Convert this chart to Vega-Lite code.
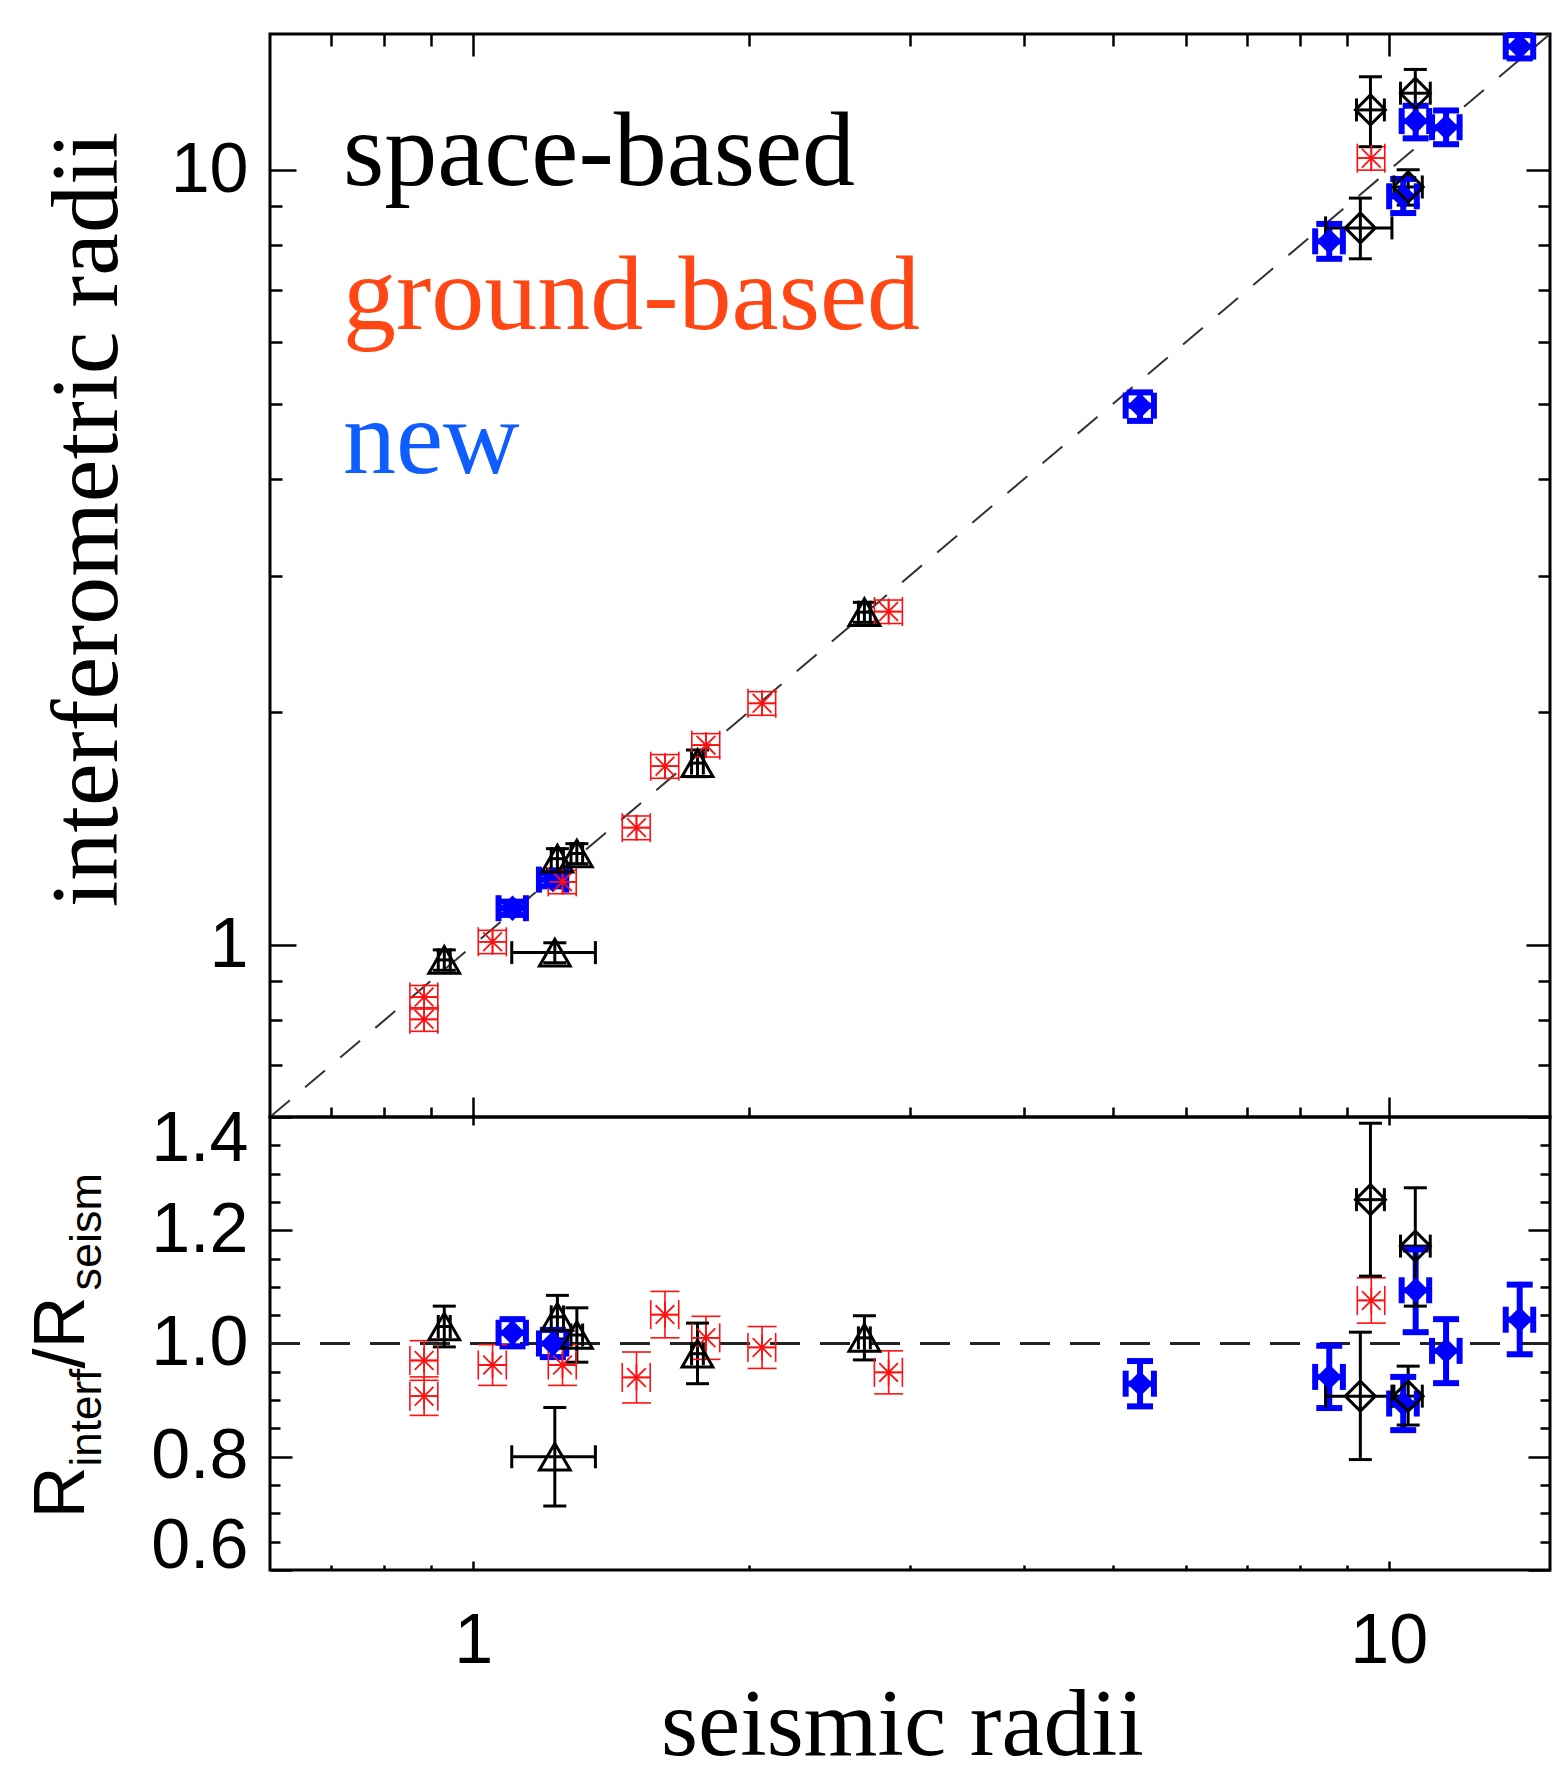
{
  "$schema": "https://vega.github.io/schema/vega-lite/v6.json",
  "background": "white",
  "padding": {"left": 23, "top": 20, "right": 10, "bottom": 0},
  "bounds": "flush",
  "spacing": 0,
  "config": {
    "view": {"stroke": "#000000", "strokeWidth": 3},
    "axis": {"domain": false, "grid": false, "labelFont": "Liberation Sans", "labelFontSize": 70, "labelColor": "#000000", "tickColor": "#000000", "tickWidth": 2.5, "labelOverlap": false, "titleColor": "#000000", "titleFontWeight": "normal"}
  },
  "datasets": {
    "diag": [{"v": 0.6}, {"v": 15}],
    "one": [{"r": 1}],
    "pts": [
      {"g":"new","sym":"diamond","x":1.104,"xlo":1.066,"xhi":1.142,"y":1.116,"ylo":1.094,"yhi":1.138,"r":1.019,"rlo":0.995,"rhi":1.043},
      {"g":"new","sym":"diamond","x":1.222,"xlo":1.180,"xhi":1.264,"y":1.215,"ylo":1.191,"yhi":1.239,"r":1.000,"rlo":0.976,"rhi":1.024},
      {"g":"new","sym":"diamond","x":5.35,"xlo":5.16,"xhi":5.54,"y":4.97,"ylo":4.75,"yhi":5.17,"r":0.929,"rlo":0.889,"rhi":0.969},
      {"g":"new","sym":"diamond","x":8.61,"xlo":8.31,"xhi":8.91,"y":8.10,"ylo":7.69,"yhi":8.53,"r":0.941,"rlo":0.886,"rhi":0.996},
      {"g":"new","sym":"diamond","x":10.37,"xlo":10.01,"xhi":10.73,"y":9.26,"ylo":8.81,"yhi":9.75,"r":0.894,"rlo":0.847,"rhi":0.941},
      {"g":"new","sym":"diamond","x":10.70,"xlo":10.33,"xhi":11.07,"y":11.58,"ylo":11.00,"yhi":12.12,"r":1.094,"rlo":1.020,"rhi":1.166},
      {"g":"new","sym":"diamond","x":11.55,"xlo":11.15,"xhi":11.95,"y":11.37,"ylo":10.81,"yhi":11.95,"r":0.987,"rlo":0.930,"rhi":1.043},
      {"g":"new","sym":"diamond","x":13.90,"xlo":13.42,"xhi":14.38,"y":14.45,"ylo":13.95,"yhi":14.95,"r":1.042,"rlo":0.981,"rhi":1.104},
      {"g":"ground-based","sym":"star","x":0.884,"xlo":0.853,"xhi":0.915,"y":0.857,"ylo":0.827,"yhi":0.887,"r":0.970,"rlo":0.935,"rhi":1.005},
      {"g":"ground-based","sym":"star","x":0.884,"xlo":0.853,"xhi":0.915,"y":0.802,"ylo":0.774,"yhi":0.830,"r":0.907,"rlo":0.873,"rhi":0.941},
      {"g":"ground-based","sym":"star","x":1.050,"xlo":1.013,"xhi":1.087,"y":1.010,"ylo":0.975,"yhi":1.045,"r":0.962,"rlo":0.926,"rhi":0.998},
      {"g":"ground-based","sym":"star","x":1.252,"xlo":1.208,"xhi":1.296,"y":1.207,"ylo":1.165,"yhi":1.249,"r":0.962,"rlo":0.926,"rhi":0.998},
      {"g":"ground-based","sym":"star","x":1.508,"xlo":1.455,"xhi":1.561,"y":1.418,"ylo":1.368,"yhi":1.468,"r":0.940,"rlo":0.895,"rhi":0.985},
      {"g":"ground-based","sym":"star","x":1.620,"xlo":1.563,"xhi":1.677,"y":1.702,"ylo":1.642,"yhi":1.762,"r":1.051,"rlo":1.010,"rhi":1.092},
      {"g":"ground-based","sym":"star","x":1.796,"xlo":1.733,"xhi":1.859,"y":1.812,"ylo":1.749,"yhi":1.875,"r":1.010,"rlo":0.972,"rhi":1.048},
      {"g":"ground-based","sym":"star","x":2.068,"xlo":1.996,"xhi":2.140,"y":2.052,"ylo":1.980,"yhi":2.124,"r":0.993,"rlo":0.956,"rhi":1.030},
      {"g":"ground-based","sym":"star","x":2.843,"xlo":2.743,"xhi":2.943,"y":2.695,"ylo":2.601,"yhi":2.789,"r":0.949,"rlo":0.911,"rhi":0.987},
      {"g":"ground-based","sym":"star","x":9.57,"xlo":9.24,"xhi":9.90,"y":10.37,"ylo":10.01,"yhi":10.73,"r":1.076,"rlo":1.036,"rhi":1.116},
      {"g":"space-based","sym":"triangle","x":0.930,"xlo":0.916,"xhi":0.944,"y":0.957,"ylo":0.928,"yhi":0.986,"r":1.030,"rlo":0.994,"rhi":1.066},
      {"g":"space-based","sym":"triangle","x":1.228,"xlo":1.102,"xhi":1.360,"y":0.978,"ylo":0.949,"yhi":1.007,"r":0.800,"rlo":0.713,"rhi":0.887},
      {"g":"space-based","sym":"triangle","x":1.236,"xlo":1.217,"xhi":1.255,"y":1.293,"ylo":1.254,"yhi":1.332,"r":1.047,"rlo":1.008,"rhi":1.085},
      {"g":"space-based","sym":"triangle","x":1.298,"xlo":1.279,"xhi":1.317,"y":1.313,"ylo":1.274,"yhi":1.352,"r":1.015,"rlo":0.967,"rhi":1.063},
      {"g":"space-based","sym":"triangle","x":1.758,"xlo":1.732,"xhi":1.784,"y":1.718,"ylo":1.650,"yhi":1.786,"r":0.982,"rlo":0.929,"rhi":1.036},
      {"g":"space-based","sym":"triangle","x":2.675,"xlo":2.635,"xhi":2.715,"y":2.690,"ylo":2.610,"yhi":2.770,"r":1.010,"rlo":0.971,"rhi":1.049},
      {"g":"space-based","sym":"diamond","x":9.55,"xlo":9.22,"xhi":9.89,"y":11.97,"ylo":10.73,"yhi":13.21,"r":1.254,"rlo":1.119,"rhi":1.389},
      {"g":"space-based","sym":"diamond","x":10.69,"xlo":10.30,"xhi":11.10,"y":12.58,"ylo":11.60,"yhi":13.50,"r":1.172,"rlo":1.066,"rhi":1.275},
      {"g":"space-based","sym":"diamond","x":9.31,"xlo":8.53,"xhi":10.08,"y":8.43,"ylo":7.69,"yhi":9.21,"r":0.907,"rlo":0.795,"rhi":1.020},
      {"g":"space-based","sym":"diamond","x":10.50,"xlo":10.13,"xhi":10.88,"y":9.52,"ylo":9.02,"yhi":10.02,"r":0.907,"rlo":0.856,"rhi":0.960}
    ]
  },
  "vconcat": [
    {
      "width": 1280,
      "height": 1083,
      "data": {"name": "pts"},
      "resolve": {"axis": {"x": "independent", "y": "independent"}},
      "layer": [
        {
          "data": {"name": "diag"},
          "mark": {"type": "line", "strokeDash": [26, 20], "strokeWidth": 2, "color": "#333333", "clip": true},
          "encoding": {
            "x": {"field": "v", "type": "quantitative", "scale": {"type": "log", "domain": [0.6, 15], "nice": false},
                  "axis": {"orient": "bottom", "values": [0.7,0.8,0.9,1,2,3,4,5,6,7,8,9,10], "labels": false, "title": null,
                           "tickSize": {"condition": {"test": "datum.value == 1 || datum.value == 10", "value": -20}, "value": -10}}},
            "y": {"field": "v", "type": "quantitative", "scale": {"type": "log", "domain": [0.6, 15], "nice": false},
                  "axis": {"orient": "left", "values": [0.7,0.8,0.9,1,2,3,4,5,6,7,8,9,10], "format": "~g",
                           "labelExpr": "datum.value == 1 || datum.value == 10 ? datum.label : ''",
                           "tickSize": {"condition": {"test": "datum.value == 1 || datum.value == 10", "value": -26}, "value": -12},
                           "labelPadding": 48,
                           "title": "interferometric radii", "titleFont": "Liberation Serif", "titleFontSize": 96,
                           "titleAngle": 270, "titleAlign": "center", "titleBaseline": "alphabetic", "titleX": -154, "titleY": 485}}
          }
        },
        {
          "mark": {"type": "rule"},
          "encoding": {
            "x": {"field": "x", "type": "quantitative", "scale": {"type": "log", "domain": [0.6, 15], "nice": false},
                  "axis": {"orient": "top", "values": [0.7,0.8,0.9,1,2,3,4,5,6,7,8,9,10], "labels": false, "title": null,
                           "tickSize": {"condition": {"test": "datum.value == 1 || datum.value == 10", "value": -22}, "value": -12}}},
            "y": {"field": "ylo", "type": "quantitative", "scale": {"type": "log", "domain": [0.6, 15], "nice": false},
                  "axis": {"orient": "right", "values": [0.7,0.8,0.9,1,2,3,4,5,6,7,8,9,10], "labels": false, "title": null,
                           "tickSize": {"condition": {"test": "datum.value == 1 || datum.value == 10", "value": -24}, "value": -12}}},
            "y2": {"field": "yhi"},
            "color": {"field": "g", "type": "nominal", "scale": {"domain": ["space-based", "ground-based", "new"], "range": ["#000000", "#ff1010", "#0000ff"]},
                      "legend": {"title": null, "orient": "none", "legendX": -33, "legendY": 66, "padding": 0,
                                 "labelFont": "Liberation Serif", "labelFontSize": 106, "labelLimit": 0, "labelOffset": 0,
                                 "symbolSize": 0, "symbolStrokeWidth": 0, "symbolOpacity": 0, "rowPadding": 38,
                                 "encode": {"labels": {"update": {"fill": {"signal": "datum.label == 'space-based' ? '#000000' : datum.label == 'ground-based' ? '#ff4716' : '#0f5cff'"}}}}}},
            "strokeWidth": {"field": "g", "type": "ordinal", "scale": {"type": "ordinal", "domain": ["space-based", "ground-based", "new"], "range": [3, 1.6, 6]}, "legend": null}
          }
        },
        {
          "mark": {"type": "rule"},
          "encoding": {
            "x": {"field": "xlo", "type": "quantitative", "scale": {"type": "log", "domain": [0.6, 15], "nice": false}, "axis": null},
            "x2": {"field": "xhi"},
            "y": {"field": "y", "type": "quantitative", "scale": {"type": "log", "domain": [0.6, 15], "nice": false}, "axis": null},
            "color": {"field": "g", "type": "nominal", "scale": {"domain": ["space-based", "ground-based", "new"], "range": ["#000000", "#ff1010", "#0000ff"]}},
            "strokeWidth": {"field": "g", "type": "ordinal", "scale": {"type": "ordinal", "domain": ["space-based", "ground-based", "new"], "range": [3, 1.6, 6]}, "legend": null}
          }
        },
        {
          "transform": [{"fold": ["ylo", "yhi"], "as": ["k", "cv"]}],
          "mark": {"type": "point", "shape": "M-1,0L1,0", "filled": false, "opacity": 1},
          "encoding": {
            "x": {"field": "x", "type": "quantitative", "scale": {"type": "log", "domain": [0.6, 15], "nice": false}, "axis": null},
            "y": {"field": "cv", "type": "quantitative", "scale": {"type": "log", "domain": [0.6, 15], "nice": false}, "axis": null},
            "color": {"field": "g", "type": "nominal", "scale": {"domain": ["space-based", "ground-based", "new"], "range": ["#000000", "#ff1010", "#0000ff"]}},
            "strokeWidth": {"field": "g", "type": "ordinal", "scale": {"type": "ordinal", "domain": ["space-based", "ground-based", "new"], "range": [3, 1.6, 6]}, "legend": null},
            "size": {"field": "g", "type": "ordinal", "scale": {"type": "ordinal", "domain": ["space-based", "ground-based", "new"], "range": [529, 841, 676]}, "legend": null}
          }
        },
        {
          "transform": [{"fold": ["xlo", "xhi"], "as": ["k", "cv"]}],
          "mark": {"type": "point", "shape": "M0,-1L0,1", "filled": false, "opacity": 1},
          "encoding": {
            "x": {"field": "cv", "type": "quantitative", "scale": {"type": "log", "domain": [0.6, 15], "nice": false}, "axis": null},
            "y": {"field": "y", "type": "quantitative", "scale": {"type": "log", "domain": [0.6, 15], "nice": false}, "axis": null},
            "color": {"field": "g", "type": "nominal", "scale": {"domain": ["space-based", "ground-based", "new"], "range": ["#000000", "#ff1010", "#0000ff"]}},
            "strokeWidth": {"field": "g", "type": "ordinal", "scale": {"type": "ordinal", "domain": ["space-based", "ground-based", "new"], "range": [3, 1.6, 6]}, "legend": null},
            "size": {"field": "g", "type": "ordinal", "scale": {"type": "ordinal", "domain": ["space-based", "ground-based", "new"], "range": [529, 841, 676]}, "legend": null}
          }
        },
        {
          "transform": [{"filter": "datum.g == 'new'"}],
          "mark": {"type": "point", "shape": "diamond", "filled": true, "size": 650, "opacity": 1},
          "encoding": {
            "x": {"field": "x", "type": "quantitative", "scale": {"type": "log", "domain": [0.6, 15], "nice": false}, "axis": null},
            "y": {"field": "y", "type": "quantitative", "scale": {"type": "log", "domain": [0.6, 15], "nice": false}, "axis": null},
            "color": {"field": "g", "type": "nominal", "scale": {"domain": ["space-based", "ground-based", "new"], "range": ["#000000", "#ff1010", "#0000ff"]}}
          }
        },
        {
          "transform": [{"filter": "datum.g == 'ground-based'"}],
          "mark": {"type": "point", "shape": "M0,-1L0,1M-1,0L1,0M-0.72,-0.72L0.72,0.72M-0.72,0.72L0.72,-0.72", "filled": false, "size": 676, "strokeWidth": 1.8, "opacity": 1},
          "encoding": {
            "x": {"field": "x", "type": "quantitative", "scale": {"type": "log", "domain": [0.6, 15], "nice": false}, "axis": null},
            "y": {"field": "y", "type": "quantitative", "scale": {"type": "log", "domain": [0.6, 15], "nice": false}, "axis": null},
            "color": {"field": "g", "type": "nominal", "scale": {"domain": ["space-based", "ground-based", "new"], "range": ["#000000", "#ff1010", "#0000ff"]}}
          }
        },
        {
          "transform": [{"filter": "datum.sym == 'triangle'"}],
          "mark": {"type": "point", "shape": "triangle-up", "filled": false, "size": 950, "strokeWidth": 3, "opacity": 1},
          "encoding": {
            "x": {"field": "x", "type": "quantitative", "scale": {"type": "log", "domain": [0.6, 15], "nice": false}, "axis": null},
            "y": {"field": "y", "type": "quantitative", "scale": {"type": "log", "domain": [0.6, 15], "nice": false}, "axis": null},
            "color": {"field": "g", "type": "nominal", "scale": {"domain": ["space-based", "ground-based", "new"], "range": ["#000000", "#ff1010", "#0000ff"]}}
          }
        },
        {
          "transform": [{"filter": "datum.g == 'space-based' && datum.sym == 'diamond'"}],
          "mark": {"type": "point", "shape": "diamond", "filled": false, "size": 900, "strokeWidth": 3, "opacity": 1},
          "encoding": {
            "x": {"field": "x", "type": "quantitative", "scale": {"type": "log", "domain": [0.6, 15], "nice": false}, "axis": null},
            "y": {"field": "y", "type": "quantitative", "scale": {"type": "log", "domain": [0.6, 15], "nice": false}, "axis": null},
            "color": {"field": "g", "type": "nominal", "scale": {"domain": ["space-based", "ground-based", "new"], "range": ["#000000", "#ff1010", "#0000ff"]}}
          }
        }
      ]
    },
    {
      "width": 1280,
      "height": 453,
      "data": {"name": "pts"},
      "resolve": {"axis": {"x": "independent", "y": "independent"}},
      "layer": [
        {
          "data": {"name": "one"},
          "mark": {"type": "rule", "strokeDash": [30, 20], "strokeWidth": 3, "color": "#222222"},
          "encoding": {
            "y": {"field": "r", "type": "quantitative", "scale": {"domain": [0.6, 1.4], "nice": false, "zero": false},
                  "axis": {"orient": "left", "values": [0.6,0.65,0.7,0.75,0.8,0.85,0.9,0.95,1,1.05,1.1,1.15,1.2,1.25,1.3,1.35,1.4],
                           "labelExpr": "datum.value == 0.6 || datum.value == 0.8 || datum.value == 1 || datum.value == 1.2 || datum.value == 1.4 ? format(datum.value, '.1f') : ''",
                           "labelFlush": true, "labelFlushOffset": 12, "labelPadding": 44,
                           "tickSize": {"condition": {"test": "datum.value == 0.6 || datum.value == 0.8 || datum.value == 1 || datum.value == 1.2 || datum.value == 1.4", "value": -22}, "value": -10},
                           "title": "R", "titleFont": "Liberation Sans", "titleFontSize": 72, "titleAngle": 270, "titleAlign": "left", "titleBaseline": "alphabetic", "titleX": -187, "titleY": 401}}
          }
        },
        {
          "mark": {"type": "rule"},
          "encoding": {
            "x": {"field": "x", "type": "quantitative", "scale": {"type": "log", "domain": [0.6, 15], "nice": false},
                  "axis": {"orient": "bottom", "values": [0.7,0.8,0.9,1,2,3,4,5,6,7,8,9,10], "format": "~g",
                           "labelExpr": "datum.value == 1 || datum.value == 10 ? datum.label : ''",
                           "tickSize": {"condition": {"test": "datum.value == 1 || datum.value == 10", "value": -9}, "value": -5},
                           "labelPadding": 46,
                           "title": "seismic radii", "titleFont": "Liberation Serif", "titleFontSize": 95, "titleAngle": 0,
                           "titleAlign": "center", "titleBaseline": "alphabetic", "titleX": 632, "titleY": 184}},
            "y": {"field": "rlo", "type": "quantitative", "scale": {"domain": [0.6, 1.4], "nice": false, "zero": false},
                  "axis": {"orient": "right", "values": [0.6,0.65,0.7,0.75,0.8,0.85,0.9,0.95,1,1.05,1.1,1.15,1.2,1.25,1.3,1.35,1.4], "labels": false, "title": null,
                           "tickSize": {"condition": {"test": "datum.value == 0.6 || datum.value == 0.8 || datum.value == 1 || datum.value == 1.2 || datum.value == 1.4", "value": -22}, "value": -10}}},
            "y2": {"field": "rhi"},
            "color": {"field": "g", "type": "nominal", "scale": {"domain": ["space-based", "ground-based", "new"], "range": ["#000000", "#ff1010", "#0000ff"]}},
            "strokeWidth": {"field": "g", "type": "ordinal", "scale": {"type": "ordinal", "domain": ["space-based", "ground-based", "new"], "range": [3, 1.6, 6]}, "legend": null}
          }
        },
        {
          "mark": {"type": "rule"},
          "encoding": {
            "x": {"field": "xlo", "type": "quantitative", "scale": {"type": "log", "domain": [0.6, 15], "nice": false},
                  "axis": {"orient": "top", "values": [1, 10], "labels": false, "title": null, "tickSize": -8}},
            "x2": {"field": "xhi"},
            "y": {"field": "r", "type": "quantitative", "scale": {"domain": [0.6, 1.4], "nice": false, "zero": false},
                  "axis": {"orient": "left", "ticks": false, "labels": false, "title": "interf", "titleFont": "Liberation Sans", "titleFontSize": 44,
                           "titleAngle": 270, "titleAlign": "left", "titleBaseline": "alphabetic", "titleX": -170, "titleY": 349}},
            "color": {"field": "g", "type": "nominal", "scale": {"domain": ["space-based", "ground-based", "new"], "range": ["#000000", "#ff1010", "#0000ff"]}},
            "strokeWidth": {"field": "g", "type": "ordinal", "scale": {"type": "ordinal", "domain": ["space-based", "ground-based", "new"], "range": [3, 1.6, 6]}, "legend": null}
          }
        },
        {
          "transform": [{"fold": ["rlo", "rhi"], "as": ["k", "cv"]}],
          "mark": {"type": "point", "shape": "M-1,0L1,0", "filled": false, "opacity": 1},
          "encoding": {
            "x": {"field": "x", "type": "quantitative", "scale": {"type": "log", "domain": [0.6, 15], "nice": false}, "axis": null},
            "y": {"field": "cv", "type": "quantitative", "scale": {"domain": [0.6, 1.4], "nice": false, "zero": false},
                  "axis": {"orient": "left", "ticks": false, "labels": false, "title": "/R", "titleFont": "Liberation Sans", "titleFontSize": 72,
                           "titleAngle": 270, "titleAlign": "left", "titleBaseline": "alphabetic", "titleX": -187, "titleY": 251}},
            "color": {"field": "g", "type": "nominal", "scale": {"domain": ["space-based", "ground-based", "new"], "range": ["#000000", "#ff1010", "#0000ff"]}},
            "strokeWidth": {"field": "g", "type": "ordinal", "scale": {"type": "ordinal", "domain": ["space-based", "ground-based", "new"], "range": [3, 1.6, 6]}, "legend": null},
            "size": {"field": "g", "type": "ordinal", "scale": {"type": "ordinal", "domain": ["space-based", "ground-based", "new"], "range": [529, 841, 676]}, "legend": null}
          }
        },
        {
          "transform": [{"fold": ["xlo", "xhi"], "as": ["k", "cv"]}],
          "mark": {"type": "point", "shape": "M0,-1L0,1", "filled": false, "opacity": 1},
          "encoding": {
            "x": {"field": "cv", "type": "quantitative", "scale": {"type": "log", "domain": [0.6, 15], "nice": false}, "axis": null},
            "y": {"field": "r", "type": "quantitative", "scale": {"domain": [0.6, 1.4], "nice": false, "zero": false},
                  "axis": {"orient": "left", "ticks": false, "labels": false, "title": "seism", "titleFont": "Liberation Sans", "titleFontSize": 45,
                           "titleAngle": 270, "titleAlign": "left", "titleBaseline": "alphabetic", "titleX": -170, "titleY": 173}},
            "color": {"field": "g", "type": "nominal", "scale": {"domain": ["space-based", "ground-based", "new"], "range": ["#000000", "#ff1010", "#0000ff"]}},
            "strokeWidth": {"field": "g", "type": "ordinal", "scale": {"type": "ordinal", "domain": ["space-based", "ground-based", "new"], "range": [3, 1.6, 6]}, "legend": null},
            "size": {"field": "g", "type": "ordinal", "scale": {"type": "ordinal", "domain": ["space-based", "ground-based", "new"], "range": [529, 841, 676]}, "legend": null}
          }
        },
        {
          "transform": [{"filter": "datum.g == 'new'"}],
          "mark": {"type": "point", "shape": "diamond", "filled": true, "size": 650, "opacity": 1},
          "encoding": {
            "x": {"field": "x", "type": "quantitative", "scale": {"type": "log", "domain": [0.6, 15], "nice": false}, "axis": null},
            "y": {"field": "r", "type": "quantitative", "scale": {"domain": [0.6, 1.4], "nice": false, "zero": false}, "axis": null},
            "color": {"field": "g", "type": "nominal", "scale": {"domain": ["space-based", "ground-based", "new"], "range": ["#000000", "#ff1010", "#0000ff"]}}
          }
        },
        {
          "transform": [{"filter": "datum.g == 'ground-based'"}],
          "mark": {"type": "point", "shape": "M0,-1L0,1M-1,0L1,0M-0.72,-0.72L0.72,0.72M-0.72,0.72L0.72,-0.72", "filled": false, "size": 676, "strokeWidth": 1.8, "opacity": 1},
          "encoding": {
            "x": {"field": "x", "type": "quantitative", "scale": {"type": "log", "domain": [0.6, 15], "nice": false}, "axis": null},
            "y": {"field": "r", "type": "quantitative", "scale": {"domain": [0.6, 1.4], "nice": false, "zero": false}, "axis": null},
            "color": {"field": "g", "type": "nominal", "scale": {"domain": ["space-based", "ground-based", "new"], "range": ["#000000", "#ff1010", "#0000ff"]}}
          }
        },
        {
          "transform": [{"filter": "datum.sym == 'triangle'"}],
          "mark": {"type": "point", "shape": "triangle-up", "filled": false, "size": 950, "strokeWidth": 3, "opacity": 1},
          "encoding": {
            "x": {"field": "x", "type": "quantitative", "scale": {"type": "log", "domain": [0.6, 15], "nice": false}, "axis": null},
            "y": {"field": "r", "type": "quantitative", "scale": {"domain": [0.6, 1.4], "nice": false, "zero": false}, "axis": null},
            "color": {"field": "g", "type": "nominal", "scale": {"domain": ["space-based", "ground-based", "new"], "range": ["#000000", "#ff1010", "#0000ff"]}}
          }
        },
        {
          "transform": [{"filter": "datum.g == 'space-based' && datum.sym == 'diamond'"}],
          "mark": {"type": "point", "shape": "diamond", "filled": false, "size": 900, "strokeWidth": 3, "opacity": 1},
          "encoding": {
            "x": {"field": "x", "type": "quantitative", "scale": {"type": "log", "domain": [0.6, 15], "nice": false}, "axis": null},
            "y": {"field": "r", "type": "quantitative", "scale": {"domain": [0.6, 1.4], "nice": false, "zero": false}, "axis": null},
            "color": {"field": "g", "type": "nominal", "scale": {"domain": ["space-based", "ground-based", "new"], "range": ["#000000", "#ff1010", "#0000ff"]}}
          }
        }
      ]
    }
  ]
}
